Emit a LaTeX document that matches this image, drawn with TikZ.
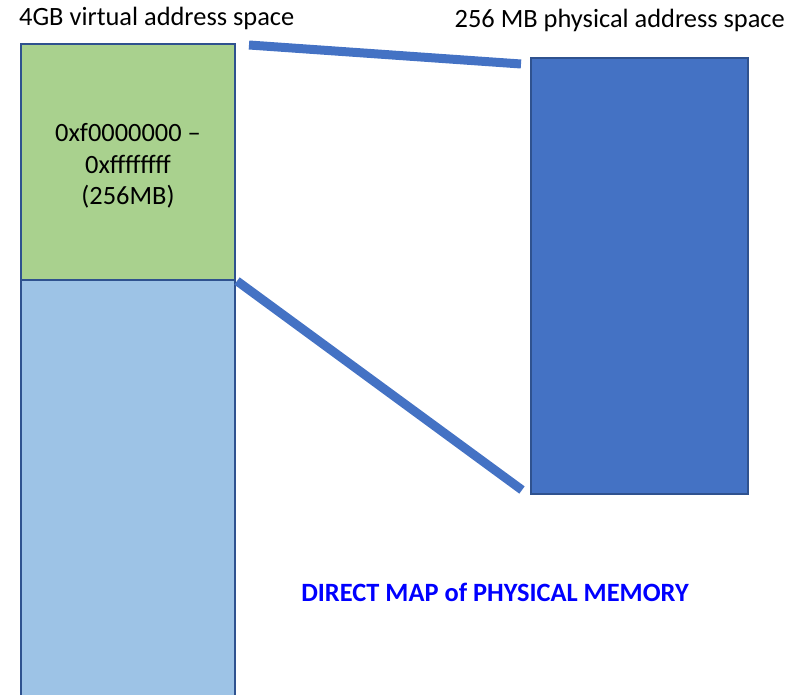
\documentclass[tikz,border=0pt]{standalone}
\usepackage{fontspec}
\setmainfont{Carlito}
\usetikzlibrary{positioning}

\definecolor{virtgreen}{HTML}{A9D18E}
\definecolor{virtblue}{HTML}{9DC3E6}
\definecolor{physblue}{HTML}{4472C4}
\definecolor{memborder}{HTML}{2F528F}
\definecolor{mapblue}{HTML}{4472C4}
\definecolor{notetext}{HTML}{0000FF}

\tikzset{
  memblock/.style={draw=memborder, line width=2pt, inner sep=0pt, outer sep=0pt},
  mapline/.style={draw=mapblue, line width=9pt},
  title/.style={font=\fontsize{26.4}{31.5}\selectfont, inner sep=0pt},
}

\begin{document}
\begin{tikzpicture}[x=1pt, y=-1pt]
\useasboundingbox (0,0) rectangle (801,695);

\node[memblock, fill=virtgreen, anchor=north west, minimum width=214pt, minimum height=236pt] (virt_hi) at (21,44) {};
\node[memblock, fill=virtblue, anchor=north, minimum width=214pt, minimum height=420pt] (virt_lo) at (virt_hi.south) {};
\node[memblock, fill=physblue, anchor=north west, minimum width=217pt, minimum height=436pt] (phys) at (531,58) {};

\node[title, align=center] (virt_range) at ([shift={(0,4)}]virt_hi.center) {0xf0000000 –\\0xffffffff\\(256MB)};
\node[title, anchor=base west] (virt_title) at (19,26) {4GB virtual address space};
\node[title, anchor=base east] (phys_title) at (785,28) {256 MB physical address space};
\node[title, font=\fontsize{26.4}{31.5}\selectfont\bfseries, text=notetext] (map_note) at (495,592) {DIRECT MAP of PHYSICAL MEMORY};

\draw[mapline] ([shift={(14,1)}]virt_hi.north east) -- ([shift={(-10,6)}]phys.north west);
\draw[mapline] ([shift={(2,1)}]virt_hi.south east) -- ([shift={(-9,-4)}]phys.south west);

\end{tikzpicture}
\end{document}
